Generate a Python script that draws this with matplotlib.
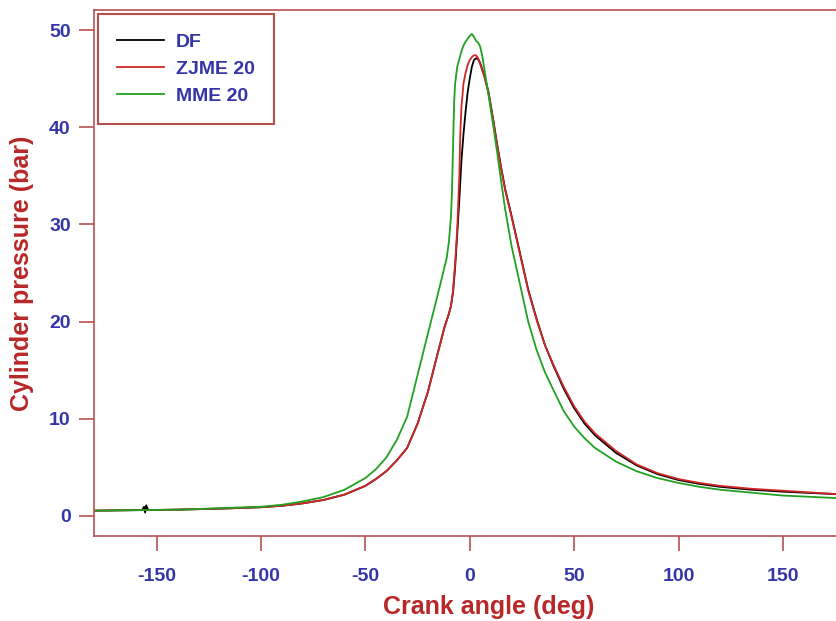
import matplotlib.pyplot as plt

# crank angle (deg) and cylinder pressure (bar) for each fuel
ang_zjme = [-180, -160, -140, -120, -100, -90, -80, -70, -60, -50, -45, -40, -35, -30,
            -25, -20, -16, -12, -10, -9, -8, -7, -6, -5, -4.5, -4, -3, -2, -1, 0, 1, 2,
            3, 4, 5, 7, 9, 11, 13, 15, 17, 20, 24, 28, 32, 36, 40, 45, 50, 55, 60,
            70, 80, 90, 100, 110, 120, 135, 150, 165, 180]
p_zjme = [0.55, 0.6, 0.65, 0.75, 0.9, 1.05, 1.3, 1.65, 2.2, 3.1, 3.8, 4.6, 5.7, 7.0,
          9.5, 12.8, 16.2, 19.5, 20.8, 21.6, 23.2, 26.0, 29.5, 35.0, 39.5, 42.0, 44.5,
          45.6, 46.4, 46.9, 47.2, 47.4, 47.4, 47.1, 46.5, 45.2, 43.5, 41.0, 38.3,
          35.8, 33.5, 30.8, 27.0, 23.2, 20.2, 17.6, 15.6, 13.3, 11.3, 9.7, 8.5,
          6.7, 5.3, 4.4, 3.8, 3.4, 3.1, 2.8, 2.6, 2.4, 2.2]

ang_df = [-180, -160, -157, -156, -155.5, -155, -154, -140, -120, -100, -90, -80, -70,
          -60, -50, -45, -40, -35, -30, -25, -20, -16, -12, -10, -9, -8, -7, -6, -5,
          -4, -3, -2, -1, 0, 1, 2, 3, 4, 5, 7, 9, 11, 13, 15, 17, 20, 24, 28, 32, 36,
          40, 45, 50, 55, 60, 70, 80, 90, 100, 110, 120, 135, 150, 165, 180]
p_df = [0.55, 0.6, 0.6, 0.95, 0.35, 1.1, 0.6, 0.65, 0.75, 0.9, 1.05, 1.3, 1.65,
        2.2, 3.1, 3.8, 4.6, 5.7, 7.0, 9.5, 12.8, 16.2, 19.5, 20.8, 21.6, 23.0, 25.6,
        29.0, 32.5, 36.5, 39.3, 41.6, 43.6, 45.0, 46.2, 46.9, 47.1, 47.0, 46.6,
        45.3, 43.6, 41.1, 38.4, 35.9, 33.6, 30.9, 27.1, 23.3, 20.3, 17.6, 15.5,
        13.1, 11.1, 9.5, 8.3, 6.5, 5.2, 4.3, 3.7, 3.3, 3.0, 2.7, 2.5, 2.35, 2.2]

ang_mme = [-180, -160, -140, -120, -100, -90, -80, -70, -60, -50, -45, -40, -35, -30,
           -25, -20, -16, -13, -11, -10, -9, -8.5, -8, -7.5, -7, -6, -5, -4, -3, -2,
           -1, 0, 1, 2, 3, 4, 5, 6, 7, 9, 11, 13, 15, 17, 20, 24, 28, 32, 36, 40, 45,
           50, 55, 60, 70, 80, 90, 100, 110, 120, 135, 150, 165, 180]
p_mme = [0.55, 0.6, 0.65, 0.8, 0.95, 1.15, 1.5, 1.95, 2.7, 3.9, 4.8, 6.0, 7.8, 10.2,
         14.5, 18.8, 22.2, 24.8, 26.6, 28.2, 30.8, 33.5, 38.0, 42.5, 44.5, 46.2, 47.0,
         47.8, 48.4, 48.8, 49.1, 49.4, 49.6, 49.3, 48.9, 48.7, 48.3, 47.3, 46.0,
         43.3, 40.5, 37.6, 34.5, 31.5, 27.8, 23.9, 20.0, 17.1, 14.8, 13.0, 10.8,
         9.2, 8.0, 7.0, 5.6, 4.6, 3.9, 3.4, 3.0, 2.7, 2.4, 2.1, 1.95, 1.8]

xticks = [-150, -100, -50, 0, 50, 100, 150]
yticks = [0, 10, 20, 30, 40, 50]

frame = "#b85050"
blue = "#3535a8"
dark_red = "#b82828"

plt.rcParams["font.family"] = ["Liberation Sans", "DejaVu Sans"]
plt.rcParams["font.weight"] = "bold"
plt.rcParams["axes.unicode_minus"] = False

fig = plt.figure(figsize=(8.36, 6.21), dpi=100)
ax = fig.add_axes([94 / 836, 85 / 621, 751.5 / 836, 526 / 621])

ax.plot(ang_df, p_df, color="black", lw=1.3, label="DF")
ax.plot(ang_zjme, p_zjme, color="#d02828", lw=1.3, label="ZJME 20")
ax.plot(ang_mme, p_mme, color="#22a022", lw=1.3, label="MME 20")

ax.set_xlim(-180, 180)
ax.set_ylim(-2.06, 52.06)
ax.set_xticks(xticks)
ax.set_yticks(yticks)

for s in ax.spines.values():
    s.set_color(frame)
    s.set_linewidth(1.2)

ax.tick_params(axis="both", direction="out", length=10.8, width=1.2, color=frame,
               labelcolor=blue, labelsize=14)
ax.tick_params(axis="x", pad=12)
ax.tick_params(axis="y", pad=6)
for lab in ax.get_xticklabels() + ax.get_yticklabels():
    lab.set_fontweight("bold")

ax.set_xlabel("Crank angle (deg)", fontsize=18, fontweight="bold", color=dark_red)
ax.set_ylabel("Cylinder pressure (bar)", fontsize=18, fontweight="bold", color=dark_red)
ax.xaxis.set_label_coords(0.5256, -0.113)
ax.yaxis.set_label_coords(-0.080, 0.5)

leg = ax.legend(loc="upper left", bbox_to_anchor=(0, 1), borderaxespad=0.2,
                fontsize=14, handlelength=2.4, handletextpad=0.6, borderpad=1.0,
                labelspacing=0.48, fancybox=False, framealpha=1)
leg.get_frame().set_edgecolor(frame)
leg.get_frame().set_linewidth(1.5)
for t in leg.get_texts():
    t.set_color(blue)
    t.set_fontweight("bold")

fig.savefig("out.png", dpi=100)
